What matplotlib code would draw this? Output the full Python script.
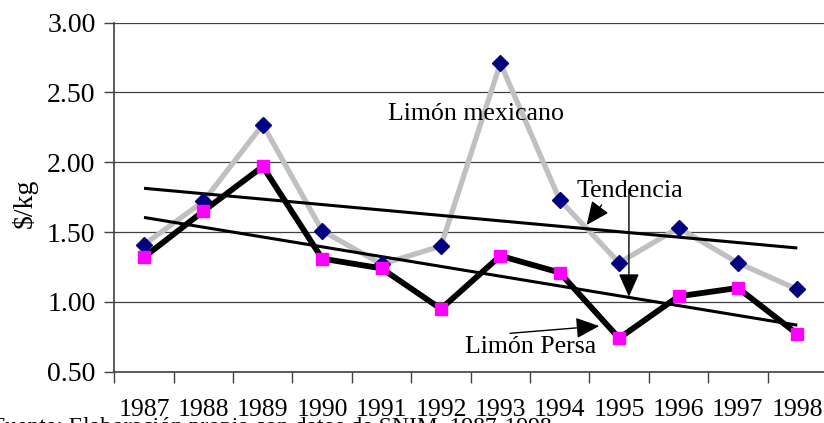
import matplotlib
matplotlib.use("Agg")
import matplotlib.pyplot as plt
import numpy as np

years = ["1987", "1988", "1989", "1990", "1991", "1992", "1993", "1994",
         "1995", "1996", "1997", "1998"]
mexicano = [1.41, 1.72, 2.27, 1.51, 1.27, 1.40, 2.71, 1.73, 1.28, 1.53, 1.28, 1.09]
persa = [1.32, 1.65, 1.97, 1.31, 1.24, 0.95, 1.33, 1.21, 0.74, 1.04, 1.10, 0.77]
yticks = [0.50, 1.00, 1.50, 2.00, 2.50, 3.00]

plt.rcParams['font.family'] = ['Liberation Serif', 'DejaVu Serif']

W, H = 824, 423
fig = plt.figure(figsize=(W / 100, H / 100), dpi=100)
ax = fig.add_axes([114.3 / W, 51.3 / H, 712.7 / W, 349.0 / H])

x = np.arange(len(years))

# gridlines
for v in yticks:
    ax.axhline(v, color='#404040', lw=0.9, zorder=1)

# trend lines (linear fits, as in the original)
for series in (mexicano, persa):
    m, b = np.polyfit(x, series, 1)
    ax.plot([x[0], x[-1]], [m * x[0] + b, m * x[-1] + b], color='black',
            lw=2.2, zorder=3, solid_capstyle='butt')

ax.plot(x, mexicano, color='#C0C0C0', lw=3.8, zorder=2, solid_joinstyle='miter')
ax.plot(x, mexicano, ls='none', marker='D', ms=8.5, mfc='#000080', mec='#000080', zorder=5)
ax.plot(x, persa, color='black', lw=4.2, zorder=4, solid_joinstyle='miter')
ax.plot(x, persa, ls='none', marker='s', ms=9.2, mfc='#FF00FF', mec='#FF00FF', zorder=6)

ax.set_xlim(-0.5, len(years) - 0.5)
ax.set_ylim(0.5, 3.0)

ax.set_yticks(yticks)
ax.set_yticklabels([f"{v:.2f}" for v in yticks], fontsize=20)
ax.set_xticks(np.arange(len(years) + 1) - 0.5)
ax.set_xticklabels([])
ax.set_xticks(x, minor=True)
ax.set_xticklabels(years, minor=True, fontsize=18.5)
ax.tick_params(axis='x', which='major', direction='out', length=8, width=1, color='#404040')
ax.tick_params(axis='x', which='minor', length=0, pad=20)
ax.tick_params(axis='y', direction='out', length=7, width=1, color='#404040', pad=6.5)

for s in ('top', 'right'):
    ax.spines[s].set_visible(False)
ax.spines['left'].set_color('#404040')
ax.spines['left'].set_linewidth(1.2)
ax.spines['bottom'].set_color('#404040')
ax.spines['bottom'].set_linewidth(1.2)

# annotations
ax.text(4.108, 2.303, "Limón mexicano", fontsize=18.6, va='baseline', ha='left', zorder=7)
ax.text(7.29, 1.751, "Tendencia", fontsize=18.8, va='baseline', ha='left', zorder=7)
ax.text(5.404, 0.634, "Limón Persa", fontsize=18.6, va='baseline', ha='left', zorder=7)

ap = dict(arrowstyle='-|>,head_length=0.9,head_width=0.4', color='black', lw=1,
          shrinkA=0, shrinkB=0, mutation_scale=16)
ax.annotate("", xy=(7.453, 1.551), xytext=(7.705, 1.694), arrowprops=ap, zorder=8)
ax.annotate("", xy=(8.165, 1.037), xytext=(8.165, 1.809), arrowprops=ap, zorder=8)
ax.annotate("", xy=(7.665, 0.827), xytext=(6.162, 0.775), arrowprops=ap, zorder=8)

fig.text(25 / W, 1 - 203 / H, "$/kg", rotation=90, fontsize=20, ha='center', va='center')
fig.text(-8 / W, -10 / H, "Fuente: Elaboración propia con datos de SNIM, 1987-1998",
         fontsize=17, ha='left', va='baseline')

fig.savefig("out.png", dpi=100)
